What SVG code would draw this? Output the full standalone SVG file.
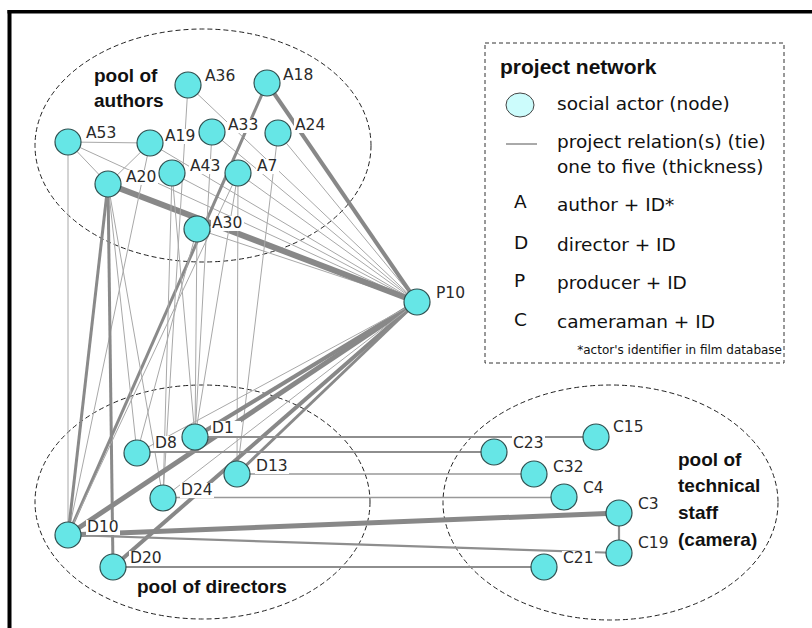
<svg xmlns="http://www.w3.org/2000/svg" width="812" height="628" viewBox="0 0 812 628">
<style>
.frame{fill:#000}
.pool{fill:none;stroke:#222;stroke-width:1;stroke-dasharray:5,3}
.e1{stroke:#a8a8a8;stroke-width:1}
.e15{stroke:#999;stroke-width:1.6}
.e2{stroke:#8e8e8e;stroke-width:2.2}
.e3{stroke:#8a8a8a;stroke-width:3}
.e4{stroke:#888;stroke-width:4}
.e5{stroke:#888;stroke-width:5}
.e6{stroke:#888;stroke-width:6}
.node circle{fill:#66e6e6;stroke:#2f4f4f;stroke-width:1.2}
.node rect{fill:#fff}
.node text{font-family:"DejaVu Sans",Verdana,sans-serif;font-size:15.5px;fill:#2a2a2a}
.pl{font-family:"Liberation Sans",Arial,sans-serif;font-weight:bold;font-size:19px;fill:#111}
.lg{font-family:"DejaVu Sans",Verdana,sans-serif;font-size:18.5px;fill:#111}
.lt{font-family:"Liberation Sans",Arial,sans-serif;font-weight:bold;font-size:21px;fill:#111}
.fn{font-family:"DejaVu Sans",Verdana,sans-serif;font-size:12px;fill:#111}
</style>
<rect width="812" height="628" fill="#fff"/>
<rect class="frame" x="7.5" y="10" width="804.5" height="3.5"/>
<rect class="frame" x="7.5" y="10" width="4" height="618"/>

<g id="pools">
<ellipse class="pool" cx="203" cy="145.5" rx="168" ry="116.5"/>
<ellipse class="pool" cx="202.5" cy="502" rx="167.5" ry="117"/>
<ellipse class="pool" cx="610.5" cy="502.5" rx="167.5" ry="117.5"/>
<text class="pl" x="94" y="82">pool of</text>
<text class="pl" x="94" y="106.5">authors</text>
<text class="pl" x="137" y="593">pool of directors</text>
<text class="pl" x="678" y="466">pool of</text>
<text class="pl" x="678" y="492">technical</text>
<text class="pl" x="678" y="519">staff</text>
<text class="pl" x="678" y="546">(camera)</text>
</g>

<g id="connectors">
<line class="e1" x1="68" y1="142" x2="150" y2="143"/>
<line class="e1" x1="68" y1="142" x2="108" y2="184"/>
<line class="e1" x1="150" y1="143" x2="108" y2="184"/>
<line class="e1" x1="68" y1="142" x2="417" y2="302"/>
<line class="e1" x1="150" y1="143" x2="417" y2="302"/>
<line class="e1" x1="188" y1="85" x2="417" y2="302"/>
<line class="e1" x1="212" y1="132" x2="417" y2="302"/>
<line class="e1" x1="278" y1="133" x2="417" y2="302"/>
<line class="e1" x1="172" y1="173" x2="417" y2="302"/>
<line class="e1" x1="238" y1="173" x2="417" y2="302"/>
<line class="e1" x1="197" y1="229" x2="417" y2="302"/>
<line class="e4" x1="267" y1="83" x2="417" y2="302"/>
<line class="e6" x1="108" y1="184" x2="417" y2="302"/>
<line class="e1" x1="68" y1="142" x2="68" y2="535"/>
<line class="e1" x1="150" y1="143" x2="68" y2="535"/>
<line class="e3" x1="108" y1="184" x2="68" y2="535"/>
<line class="e3" x1="108" y1="184" x2="113" y2="567"/>
<line class="e3" x1="267" y1="83" x2="68" y2="535"/>
<line class="e1" x1="238" y1="173" x2="68" y2="535"/>
<line class="e1" x1="108" y1="184" x2="137" y2="453"/>
<line class="e1" x1="197" y1="229" x2="137" y2="453"/>
<line class="e1" x1="108" y1="184" x2="163" y2="498"/>
<line class="e1" x1="188" y1="85" x2="163" y2="498"/>
<line class="e1" x1="172" y1="173" x2="163" y2="498"/>
<line class="e1" x1="172" y1="173" x2="195" y2="437"/>
<line class="e1" x1="197" y1="229" x2="195" y2="437"/>
<line class="e1" x1="238" y1="173" x2="195" y2="437"/>
<line class="e1" x1="212" y1="132" x2="195" y2="437"/>
<line class="e1" x1="238" y1="173" x2="237" y2="474"/>
<line class="e1" x1="278" y1="133" x2="237" y2="474"/>
<line class="e4" x1="195" y1="437" x2="417" y2="302"/>
<line class="e5" x1="68" y1="535" x2="417" y2="302"/>
<line class="e4" x1="113" y1="567" x2="417" y2="302"/>
<line class="e3" x1="237" y1="474" x2="417" y2="302"/>
<line class="e1" x1="137" y1="453" x2="417" y2="302"/>
<line class="e1" x1="163" y1="498" x2="417" y2="302"/>
<line class="e2" x1="195" y1="437" x2="596" y2="437"/>
<line class="e2" x1="137" y1="452" x2="494" y2="452"/>
<line class="e15" x1="237" y1="474" x2="534" y2="474"/>
<line class="e15" x1="163" y1="497.5" x2="564" y2="497.5"/>
<line class="e5" x1="68" y1="535" x2="619" y2="513"/>
<line class="e2" x1="68" y1="535" x2="619" y2="553"/>
<line class="e2" x1="113" y1="567" x2="544" y2="567"/>
<line class="e2" x1="619" y1="513" x2="619" y2="553"/>
</g>

<g id="A36" class="node"><circle cx="188" cy="85" r="13"/><rect x="204" y="69" width="33" height="15"/><text x="205" y="81">A36</text></g>
<g id="A18" class="node"><circle cx="267" cy="83" r="13"/><rect x="282" y="67" width="33" height="15"/><text x="283" y="80">A18</text></g>
<g id="A53" class="node"><circle cx="68" cy="142" r="13"/><rect x="85" y="126" width="33" height="15"/><text x="86" y="138">A53</text></g>
<g id="A19" class="node"><circle cx="150" cy="143" r="13"/><rect x="164" y="129" width="33" height="15"/><text x="165" y="141">A19</text></g>
<g id="A33" class="node"><circle cx="212" cy="132" r="13"/><rect x="227" y="118" width="33" height="15"/><text x="228" y="130">A33</text></g>
<g id="A24" class="node"><circle cx="278" cy="133" r="13"/><rect x="294" y="118" width="33" height="15"/><text x="295" y="130">A24</text></g>
<g id="A43" class="node"><circle cx="172" cy="173" r="13"/><rect x="189" y="159" width="33" height="15"/><text x="190" y="171">A43</text></g>
<g id="A7" class="node"><circle cx="238" cy="173" r="13"/><rect x="256" y="159" width="23" height="15"/><text x="257" y="171">A7</text></g>
<g id="A20" class="node"><circle cx="108" cy="184" r="13"/><rect x="125" y="170" width="33" height="15"/><text x="126" y="182">A20</text></g>
<g id="A30" class="node"><circle cx="197" cy="229" r="13"/><rect x="211" y="216" width="33" height="15"/><text x="212" y="228">A30</text></g>
<g id="P10" class="node"><circle cx="417" cy="302" r="13"/><rect x="435" y="286" width="32" height="15"/><text x="436" y="298">P10</text></g>
<g id="D1" class="node"><circle cx="195" cy="437" r="13"/><rect x="211" y="421" width="30" height="15"/><text x="212" y="433">D1</text></g>
<g id="D8" class="node"><circle cx="137" cy="453" r="13"/><rect x="154" y="436" width="24" height="15"/><text x="155" y="448">D8</text></g>
<g id="D13" class="node"><circle cx="237" cy="474" r="13"/><rect x="255" y="459" width="34" height="15"/><text x="256" y="471">D13</text></g>
<g id="D24" class="node"><circle cx="163" cy="498" r="13"/><rect x="180" y="483" width="34" height="15"/><text x="181" y="495">D24</text></g>
<g id="D10" class="node"><circle cx="68" cy="535" r="13"/><rect x="86" y="520" width="34" height="15"/><text x="87" y="532">D10</text></g>
<g id="D20" class="node"><circle cx="113" cy="567" r="13"/><rect x="129" y="551" width="34" height="15"/><text x="130" y="563">D20</text></g>
<g id="C15" class="node"><circle cx="596" cy="437" r="13"/><rect x="612" y="420" width="33" height="15"/><text x="613" y="432">C15</text></g>
<g id="C23" class="node"><circle cx="494" cy="452" r="13"/><rect x="512" y="436" width="33" height="15"/><text x="513" y="448">C23</text></g>
<g id="C32" class="node"><circle cx="534" cy="474" r="13"/><rect x="552" y="460" width="33" height="15"/><text x="553" y="472">C32</text></g>
<g id="C4" class="node"><circle cx="564" cy="497" r="13"/><rect x="582" y="481" width="23" height="15"/><text x="583" y="493">C4</text></g>
<g id="C3" class="node"><circle cx="619" cy="513" r="13"/><rect x="637" y="497" width="23" height="15"/><text x="638" y="509">C3</text></g>
<g id="C19" class="node"><circle cx="619" cy="553" r="13"/><rect x="637" y="536" width="33" height="15"/><text x="638" y="548">C19</text></g>
<g id="C21" class="node"><circle cx="544" cy="567" r="13"/><rect x="562" y="551" width="33" height="15"/><text x="563" y="563">C21</text></g>

<g id="legend">
<rect x="485" y="43" width="299" height="320" fill="#fff" stroke="#333" stroke-width="1" stroke-dasharray="4,3"/>
<text class="lt" x="500" y="74">project network</text>
<ellipse cx="520" cy="105" rx="14" ry="12" fill="#ccfcfc" stroke="#444" stroke-width="1"/>
<text class="lg" x="557" y="110">social actor (node)</text>
<line x1="506" y1="144" x2="537" y2="144" stroke="#555" stroke-width="1"/>
<text class="lg" x="557" y="148">project relation(s) (tie)</text>
<text class="lg" x="557" y="173">one to five (thickness)</text>
<text class="lg" x="514" y="208">A</text>
<text class="lg" x="557" y="211">author + ID*</text>
<text class="lg" x="514" y="249">D</text>
<text class="lg" x="557" y="251">director + ID</text>
<text class="lg" x="514" y="287">P</text>
<text class="lg" x="557" y="289">producer + ID</text>
<text class="lg" x="514" y="326">C</text>
<text class="lg" x="557" y="328">cameraman + ID</text>
<text class="fn" x="782" y="354" text-anchor="end">*actor's identifier in film database</text>
</g>
</svg>
